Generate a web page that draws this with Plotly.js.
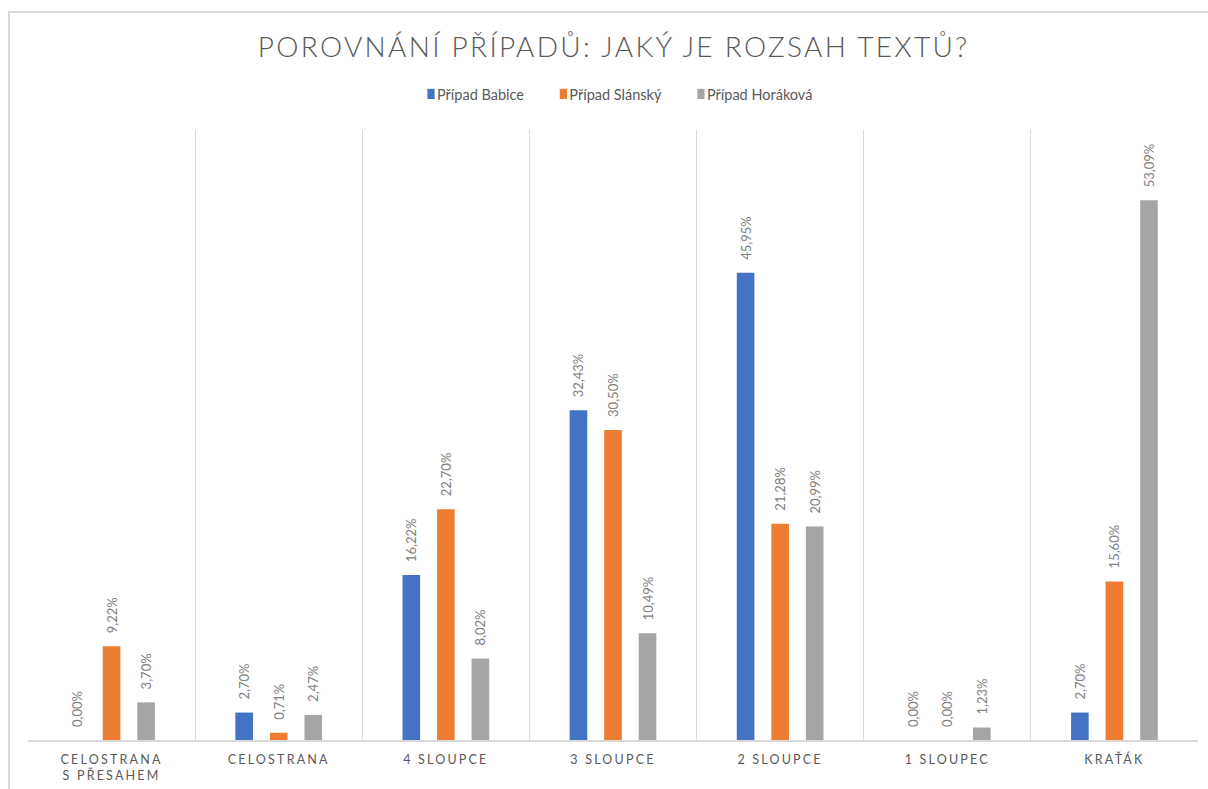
<!DOCTYPE html>
<html>
<head>
<meta charset="utf-8">
<script src="https://cdn.plot.ly/plotly-3.0.1.min.js"></script>
<style>
  html, body { margin: 0; padding: 0; background: #fff; overflow: hidden; }
  #frame { position: absolute; left: 8px; top: 11px; width: 1400px; height: 1000px;
           border-top: 2px solid #d9d9d9; border-left: 2px solid #d9d9d9; pointer-events: none; z-index: 5; }
  #chart { position: absolute; left: 0; top: 0; width: 1208px; height: 789px; }
  .xtick text { letter-spacing: 2.2px; }
  .gtitle { letter-spacing: 2.3px; }
</style>
</head>
<body>
<div id="frame"></div>
<div id="chart"></div>
<script>
const categories = ["CELOSTRANA<br>S PŘESAHEM", "CELOSTRANA", "4 SLOUPCE", "3 SLOUPCE", "2 SLOUPCE", "1 SLOUPEC", "KRAŤÁK"];
const babice   = [0.00, 2.70, 16.22, 32.43, 45.95, 0.00, 2.70];
const slansky  = [9.22, 0.71, 22.70, 30.50, 21.28, 0.00, 15.60];
const horakova = [3.70, 2.47, 8.02, 10.49, 20.99, 1.23, 53.09];
const seriesNames = ["Případ Babice", "Případ Slánský", "Případ Horáková"];
const seriesColors = ["#4472C4", "#ED7D31", "#A5A5A5"];

const fmt = v => '\u00a0\u00a0\u00a0' + v.toFixed(2).replace('.', ',') + '%';

const traces = [babice, slansky, horakova].map((vals, i) => ({
  type: 'bar',
  name: seriesNames[i],
  x: categories,
  y: vals,
  marker: { color: seriesColors[i] },
  text: vals.map(fmt),
  textposition: 'outside',
  textangle: -90,
  constraintext: 'none',
  cliponaxis: false,
  textfont: { family: 'Lato, "Open Sans", sans-serif', size: 13, color: '#808080' },
  hoverinfo: 'none'
}));

const layout = {
  width: 1208, height: 789,
  margin: { l: 28, r: 10, t: 130, b: 49 },
  paper_bgcolor: '#ffffff',
  plot_bgcolor: '#ffffff',
  barmode: 'group',
  bargap: 0.38,
  bargroupgap: 0.49,
  showlegend: true,
  title: {
    text: 'POROVNÁNÍ PŘÍPADŮ: JAKÝ JE ROZSAH TEXTŮ?',
    font: { family: 'Lato, "Open Sans", sans-serif', size: 28, weight: 300, color: '#595959' },
    x: 0.508, xref: 'container', xanchor: 'center',
    y: 1 - 47/789, yref: 'container', yanchor: 'middle'
  },
  legend: {
    orientation: 'h',
    x: 397/1208, xref: 'container', xanchor: 'left',
    y: 1 - 94/789, yref: 'container', yanchor: 'middle',
    font: { family: 'Lato, "Open Sans", sans-serif', size: 14.5, color: '#595959' },
    traceorder: 'normal'
  },
  xaxis: {
    type: 'category',
    range: [-0.5, 6.5],
    tickson: 'boundaries',
    showgrid: true,
    gridcolor: '#d9d9d9',
    gridwidth: 1,
    showline: true,
    linecolor: '#d9d9d9',
    linewidth: 1.5,
    ticks: '',
    ticklabelstandoff: 7,
    tickfont: { family: 'Lato, "Open Sans", sans-serif', size: 12.5, color: '#595959' },
    fixedrange: true
  },
  yaxis: {
    range: [0, 60],
    showgrid: false,
    zeroline: false,
    showticklabels: false,
    showline: false,
    fixedrange: true
  }
};

Plotly.newPlot('chart', traces, layout, { displayModeBar: false, staticPlot: true }).then(() => {
  document.querySelectorAll('.legend .legendpoints').forEach(g => {
    g.setAttribute('transform', 'translate(22,0) scale(0.6,0.85)');
  });
});
</script>
</body>
</html>
